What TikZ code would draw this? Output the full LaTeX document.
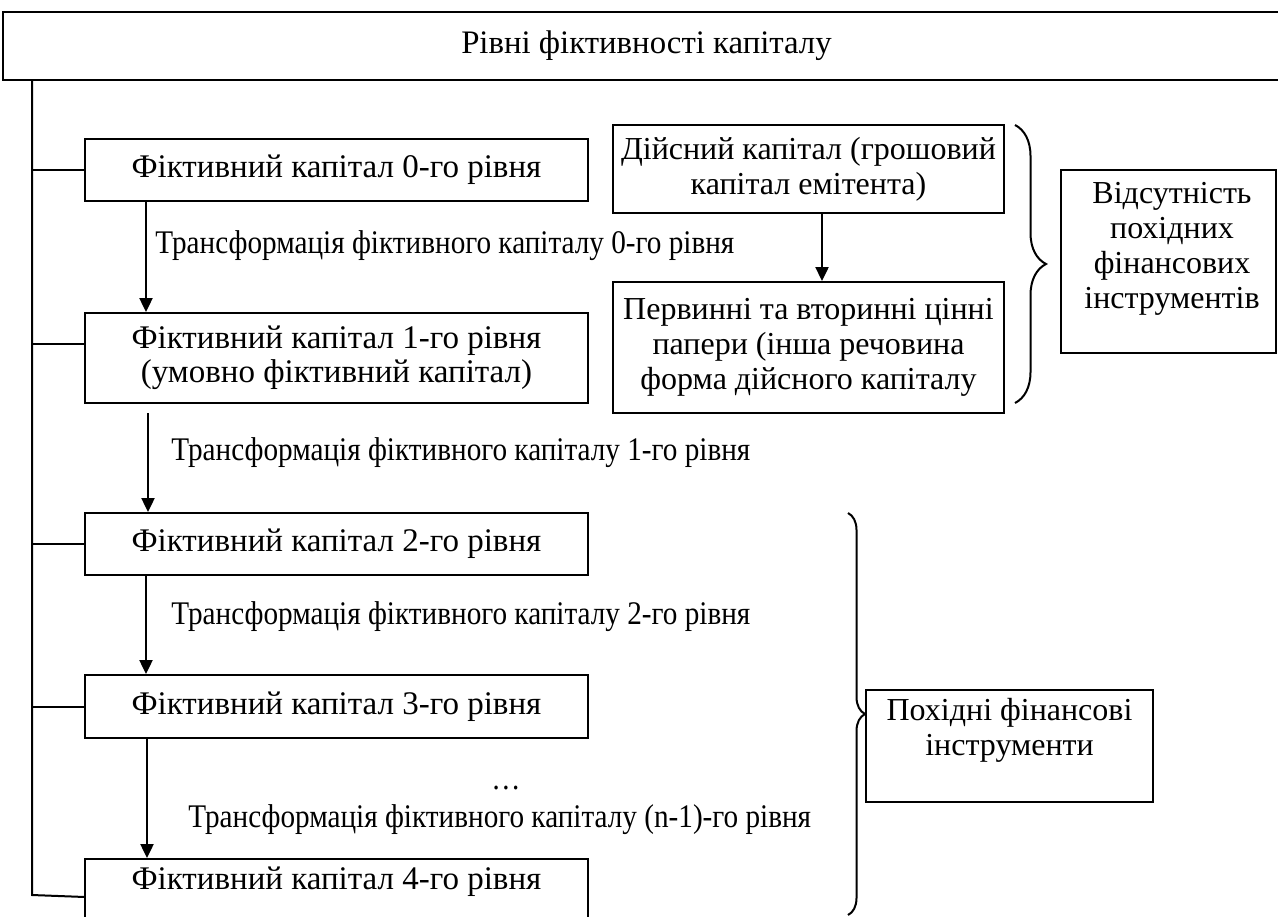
\documentclass[tikz,border=0pt]{standalone}
\usepackage{fontspec}
\setmainfont{Liberation Serif}
\newfontfamily\condfont{Liberation Serif}[FakeStretch=0.885]
\usetikzlibrary{arrows.meta,decorations.pathreplacing}
\begin{document}
\begin{tikzpicture}[x=0.5pt,y=-0.5pt,
  font=\fontsize{16}{17.5}\selectfont,
  box/.style={draw,line width=1pt,inner sep=0pt,align=center},
  lvl/.style={box,minimum width=251.5pt,font=\fontsize{16.5}{17}\selectfont},
  arr/.style={line width=1.2pt,-{Triangle[length=7pt,width=6.5pt]}},
  conn/.style={line width=1pt},
  brc/.style={line width=1pt,decorate,decoration={brace,amplitude=#1}},
  lbl/.style={anchor=west,inner sep=0pt,font=\condfont\fontsize{16.5}{18}\selectfont}]
\useasboundingbox (0,0) rectangle (1278,916);
% title
\node[box,minimum width=643.5pt,minimum height=34pt,font=\fontsize{16.4}{18}\selectfont] (title) at (646.5,46) {Рівні фіктивності капіталу};
% level boxes
\node[lvl,minimum height=31pt] (b0) at (336.5,170) {Фіктивний капітал 0-го рівня};
\node[lvl,minimum height=45pt] (b1) at (336.5,358) {Фіктивний капітал 1-го рівня\\(умовно фіктивний капітал)};
\node[lvl,minimum height=31pt] (b2) at (336.5,544) {Фіктивний капітал 2-го рівня};
\node[lvl,minimum height=31.5pt] (b3) at (336.5,706.5) {Фіктивний капітал 3-го рівня};
\node[lvl,anchor=north,minimum height=45pt] (b4) at (336.5,858) {};
\node[font=\fontsize{16.5}{17}\selectfont] (b4t) at (336.5,882) {Фіктивний капітал 4-го рівня};
% right boxes
\node[box,minimum width=195.5pt,minimum height=44pt] (d) at (808.5,169) {Дійсний капітал (грошовий\\капітал емітента)};
\node[box,minimum width=195.5pt,minimum height=65.5pt] (p) at (808.5,347.5) {Первинні та вторинні цінні\\папери (інша речовина\\форма дійсного капіталу};
\node[box,minimum width=107.5pt,minimum height=91.5pt] (abs) at (1168.5,261.5) {};
\node[align=center,inner sep=0pt] (abst) at (1172,249) {Відсутність\\похідних\\фінансових\\інструментів};
\node[box,minimum width=143.5pt,minimum height=56pt] (der) at (1009.5,746) {};
\node[align=center,inner sep=0pt] (dert) at (1009.5,730) {Похідні фінансові\\інструменти};
% labels
\node[lbl] (l0) at (155,246) {Трансформація фіктивного капіталу 0-го рівня};
\node[lbl] (l1) at (171,453) {Трансформація фіктивного капіталу 1-го рівня};
\node[lbl] (l2) at (171,617) {Трансформація фіктивного капіталу 2-го рівня};
\node[font=\condfont\fontsize{16.5}{18}\selectfont] (dots) at (506,788) {…};
\node[lbl] (l3) at (188,820) {Трансформація фіктивного капіталу (n-1)-го рівня};
% trunk
\coordinate (tx) at (32,0);
\coordinate (tend) at (32,895);
\coordinate (b4w) at (85,897);
\coordinate (c1) at (85,344);
\draw[conn] (tx |- title.south) -- (tend) -- (b4w);
\draw[conn] (tx |- b0.west) -- (b0.west);
\draw[conn] (tx |- c1) -- (c1);
\draw[conn] (tx |- b2.west) -- (b2.west);
\draw[conn] (tx |- b3.west) -- (b3.west);
% arrows
\coordinate (ax) at (146,0);
\coordinate (ax1) at (148,0);
\coordinate (ax3) at (147,0);
\coordinate (a1s) at (148,413);
\coordinate (dx) at (822,0);
\draw[arr] (ax |- b0.south) -- (ax |- b1.north);
\draw[arr] (a1s) -- (ax1 |- b2.north);
\draw[arr] (ax |- b2.south) -- (ax |- b3.north);
\draw[arr] (ax3 |- b3.south) -- (ax3 |- b4.north);
\draw[arr] (dx |- d.south) -- (dx |- p.north);
% braces
\coordinate (br1a) at (1015,125);
\coordinate (br1b) at (1015,403);
\coordinate (br2a) at (848,513);
\coordinate (br2b) at (848,915);
\draw[brc=15.5pt] (br1a) -- (br1b);
\draw[brc=8.5pt] (br2a) -- (br2b);
\end{tikzpicture}
\end{document}
